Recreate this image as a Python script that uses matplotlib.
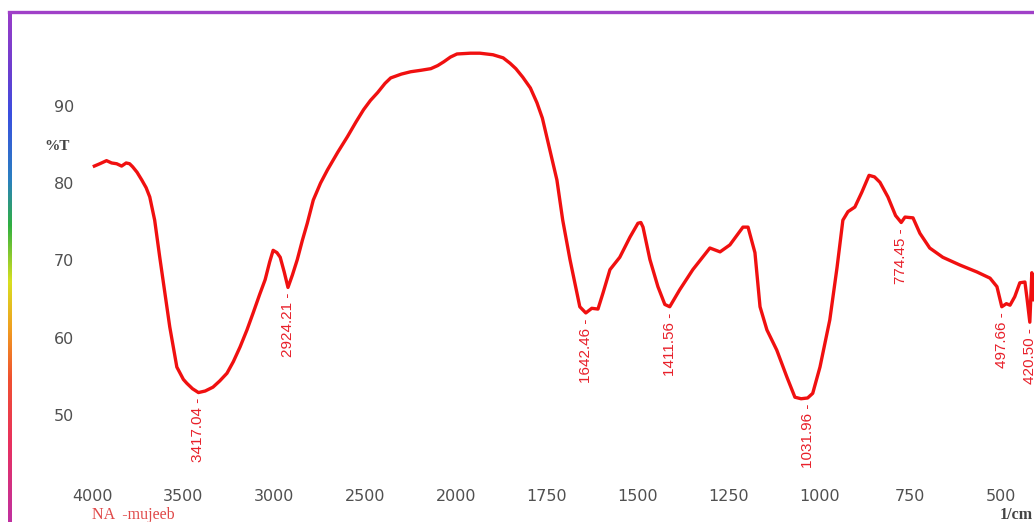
import numpy as np
import matplotlib.pyplot as plt
from matplotlib.colors import LinearSegmentedColormap

# FTIR spectrum (wavenumber 1/cm, transmittance %T)
wavenumber = [3990, 3960, 3923, 3895, 3867, 3840, 3815, 3796, 3779, 3755,
              3729, 3705, 3685, 3658, 3630, 3602, 3575, 3536, 3500, 3481,
              3450, 3417.04, 3380, 3337, 3300, 3260, 3225, 3188, 3150, 3116,
              3080, 3050, 3025, 3006, 2985, 2967, 2945, 2924.21, 2900, 2873,
              2845, 2818, 2785, 2745, 2707, 2650, 2597, 2550, 2508, 2470,
              2431, 2390, 2359, 2300, 2249, 2190, 2138, 2100, 2066, 2030,
              1997, 1960, 1934, 1898, 1870, 1851, 1835, 1816, 1795, 1777,
              1762, 1750, 1736, 1722, 1706, 1686, 1667, 1659, 1642.46, 1626,
              1609, 1595, 1576, 1549, 1521, 1499, 1491, 1485, 1466, 1444,
              1425, 1411.56, 1384, 1348, 1301, 1273, 1246, 1210, 1196, 1177,
              1163, 1144, 1117, 1089, 1067, 1050, 1031.96, 1018, 998, 971,
              951, 935, 921, 902, 883, 863, 848, 833, 811, 790,
              774.45, 764, 742, 723, 696, 660, 613, 566, 530, 511,
              497.66, 485, 475, 462, 448, 434, 428, 420.50, 415, 409]
transmittance = [82.2, 82.5, 82.9, 82.6, 82.5, 82.2, 82.6, 82.5, 82.1, 81.4,
                 80.4, 79.4, 78.2, 75.2, 70.4, 65.8, 61.4, 56.2, 54.6, 54.1,
                 53.4, 52.9, 53.1, 53.6, 54.4, 55.4, 56.9, 58.8, 61.0, 63.2,
                 65.6, 67.5, 69.8, 71.3, 71.0, 70.4, 68.5, 66.5, 68.1, 70.1,
                 72.6, 74.8, 77.8, 80.0, 81.7, 84.0, 86.0, 87.9, 89.5, 90.7,
                 91.7, 92.9, 93.6, 94.1, 94.4, 94.6, 94.8, 95.2, 95.7, 96.3,
                 96.7, 96.8, 96.8, 96.6, 96.2, 95.5, 94.8, 93.7, 92.3, 90.4,
                 88.4, 86.0, 83.2, 80.4, 75.2, 70.1, 65.8, 64.0, 63.2, 63.8,
                 63.7, 65.8, 68.8, 70.4, 73.0, 74.8, 74.9, 74.3, 70.1, 66.6,
                 64.3, 64.0, 66.2, 68.8, 71.6, 71.1, 72.0, 74.3, 74.3, 71.0,
                 64.0, 61.0, 58.4, 54.9, 52.3, 52.1, 52.2, 52.8, 56.2, 62.3,
                 69.1, 75.2, 76.3, 76.9, 78.8, 81.0, 80.8, 80.1, 78.2, 75.8,
                 74.9, 75.6, 75.5, 73.5, 71.6, 70.4, 69.4, 68.5, 67.7, 66.6,
                 64.0, 64.4, 64.2, 65.3, 67.1, 67.2, 65.0, 62.0, 68.4, 64.9]

# labelled absorption peaks
peak_wn = [3417.04, 2924.21, 1642.46, 1411.56, 1031.96, 774.45, 497.66, 420.50]
peak_t = [52.9, 66.5, 63.2, 64.0, 52.2, 74.9, 64.0, 62.0]

x_ticks = [4000, 3500, 3000, 2500, 2000, 1750, 1500, 1250, 1000, 750, 500]
y_ticks = [50, 60, 70, 80, 90]


# above 2000 1/cm the axis is compressed by a factor of 2
def fwd(x):
    x = np.asarray(x, dtype=float)
    return np.where(x > 2000, 2000 + (x - 2000) / 2.0, x)


def inv(u):
    u = np.asarray(u, dtype=float)
    return np.where(u > 2000, 2000 + (u - 2000) * 2.0, u)


W, H = 1034, 522
fig = plt.figure(figsize=(W / 100, H / 100), dpi=100)

ax = fig.add_axes([80 / W, (H - 482) / H, (W - 80) / W, (482 - 12) / H])
ax.set_xscale('function', functions=(fwd, inv))
ax.set_xlim(4069, 409)
ax.set_ylim(41.33, 102.13)
for s in ax.spines.values():
    s.set_visible(False)

ax.plot(wavenumber, transmittance, color='#f01010', lw=2.4, solid_joinstyle='round')

for wn, t in zip(peak_wn, peak_t):
    ax.annotate('%.2f -' % wn, xy=(wn, t), xytext=(0, -4), textcoords='offset points',
                rotation=90, ha='center', va='top', color='#e8202a',
                fontsize=11, family='Liberation Sans', annotation_clip=False)

ax.set_xticks(x_ticks)
ax.set_xticklabels([str(v) for v in x_ticks])
ax.set_yticks(y_ticks)
ax.set_yticklabels([str(v) for v in y_ticks])
ax.tick_params(length=0, labelsize=11.5, labelcolor='#505050')
ax.tick_params(axis='x', pad=5)
ax.tick_params(axis='y', pad=4)

fig.text(57 / W, 1 - 147 / H, '%T', family='Liberation Serif', fontsize=11,
         color='#444444', ha='center', va='center', fontweight='bold')
fig.text(92 / W, 1 - 515 / H, 'NA  -mujeeb', family='Liberation Serif', fontsize=11.5,
         color='#e04848', ha='left', va='center')
fig.text(1000 / W, 1 - 515 / H, '1/cm', family='Liberation Serif', fontsize=11.5,
         color='#444444', ha='left', va='center', fontweight='bold')

# frame: purple top edge, rainbow left edge
fig.add_artist(plt.Line2D([9 / W, 1], [1 - 12 / H, 1 - 12 / H], color='#a040c8', lw=2.4))
rainbow = LinearSegmentedColormap.from_list('edge', [
    (0.0, '#9a3cc8'), (0.12, '#6a3fd0'), (0.2, '#3a4fe0'), (0.33, '#2a80c0'),
    (0.42, '#30b040'), (0.53, '#d8e020'), (0.62, '#f0a020'), (0.72, '#f05030'),
    (0.85, '#e83060'), (1.0, '#c030a0')])
bar = fig.add_axes([8 / W, 0, 4 / W, (H - 11) / H])
bar.imshow(np.linspace(0, 1, 256).reshape(-1, 1), cmap=rainbow, aspect='auto')
bar.axis('off')

fig.savefig('out.png', dpi=100)
